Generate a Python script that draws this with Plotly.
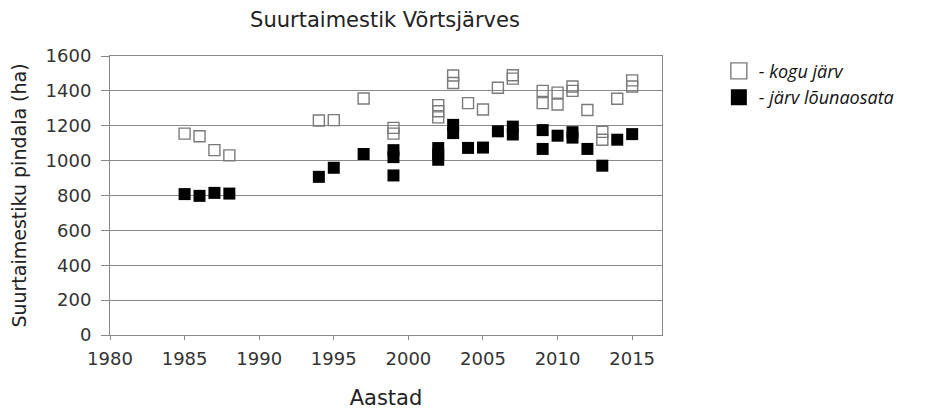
import plotly.graph_objects as go

# kogu järv (whole lake) - open squares
years_kogu = [1985, 1986, 1987, 1988, 1994, 1995, 1997, 1999, 1999,
              2002, 2002, 2002, 2003, 2003, 2004, 2005, 2006, 2007, 2007,
              2009, 2009, 2010, 2010, 2011, 2011, 2012, 2013, 2013, 2014,
              2015, 2015]
kogu = [1155, 1140, 1060, 1030, 1230, 1232, 1356, 1188, 1155,
        1318, 1283, 1248, 1488, 1445, 1330, 1293, 1418, 1490, 1470,
        1400, 1330, 1390, 1322, 1425, 1400, 1290, 1165, 1120, 1355,
        1460, 1425]

# järv lõunaosata (lake without southern part) - filled squares
years_louna = [1985, 1986, 1987, 1988, 1994, 1995, 1997, 1999, 1999, 1999,
               2002, 2002, 2002, 2003, 2003, 2004, 2005, 2006, 2007, 2007,
               2009, 2009, 2010, 2011, 2011, 2012, 2013, 2014, 2015]
louna = [808, 798, 815, 811, 907, 959, 1038, 1060, 1020, 915,
         1072, 1035, 1005, 1205, 1158, 1073, 1075, 1168, 1195, 1150,
         1175, 1067, 1143, 1163, 1132, 1067, 971, 1120, 1152]

x_ticks = [1980, 1985, 1990, 1995, 2000, 2005, 2010, 2015]
y_ticks = [0, 200, 400, 600, 800, 1000, 1200, 1400, 1600]

FONT = "DejaVu Sans, Verdana, sans-serif"
LEG_FONT = "Open Sans, Lato, sans-serif"
W, H = 924, 402

fig = go.Figure()
fig.add_trace(go.Scatter(
    x=years_kogu, y=kogu, mode="markers", name="- kogu järv", showlegend=False,
    marker=dict(symbol="square-open", size=11, color="#7a7a7a",
                line=dict(width=1.4, color="#7a7a7a")),
))
fig.add_trace(go.Scatter(
    x=years_louna, y=louna, mode="markers", name="- järv lõunaosata", showlegend=False,
    marker=dict(symbol="square", size=12, color="#000000", line=dict(width=0)),
))
# legend entries (larger legend symbols, as in the original)
fig.add_trace(go.Scatter(
    x=[None], y=[None], mode="markers", name="- kogu järv",
    marker=dict(symbol="square-open", size=16, color="#7a7a7a",
                line=dict(width=1.4, color="#7a7a7a")),
))
fig.add_trace(go.Scatter(
    x=[None], y=[None], mode="markers", name="- järv lõunaosata",
    marker=dict(symbol="square", size=17, color="#000000", line=dict(width=0)),
))

fig.update_layout(
    width=W, height=H,
    margin=dict(l=102, r=270, t=48, b=75, autoexpand=False),
    paper_bgcolor="white", plot_bgcolor="white",
    title=dict(text="Suurtaimestik Võrtsjärves", xref="container", x=377 / W,
               xanchor="center", yref="container", y=1 - 12 / H, yanchor="middle",
               font=dict(family=FONT, size=21, color="#222")),
    font=dict(family=FONT, size=17, color="#333"),
    showlegend=True,
    legend=dict(x=1.103, y=1.012, xanchor="left", yanchor="top",
                font=dict(family=LEG_FONT, size=18, color="#111", style="italic"),
                bgcolor="rgba(0,0,0,0)", itemwidth=30),
)
fig.update_xaxes(
    range=[1980, 2017], tickvals=x_ticks, ticktext=[str(v) for v in x_ticks],
    showgrid=False, zeroline=False,
    showline=True, linecolor="#888", linewidth=1, mirror=True,
    ticks="outside", ticklen=4, tickcolor="#888", ticklabelstandoff=3,
    tickfont=dict(family=FONT, size=18, color="#333"),
    title=dict(text="Aastad", font=dict(family=FONT, size=21, color="#222"), standoff=22),
)
fig.update_yaxes(
    range=[0, 1600], tickvals=y_ticks, ticktext=[str(v) for v in y_ticks],
    showgrid=True, gridcolor="#8a8a8a", gridwidth=1, zeroline=False,
    showline=True, linecolor="#888", linewidth=1, mirror=True,
    ticks="outside", ticklen=8, tickcolor="#888", ticklabelstandoff=6,
    tickfont=dict(family=FONT, size=18, color="#333"),
    title=dict(text="Suurtaimestiku pindala (ha)", font=dict(family=FONT, size=19, color="#222"), standoff=14),
)

fig.write_html("out.html")
